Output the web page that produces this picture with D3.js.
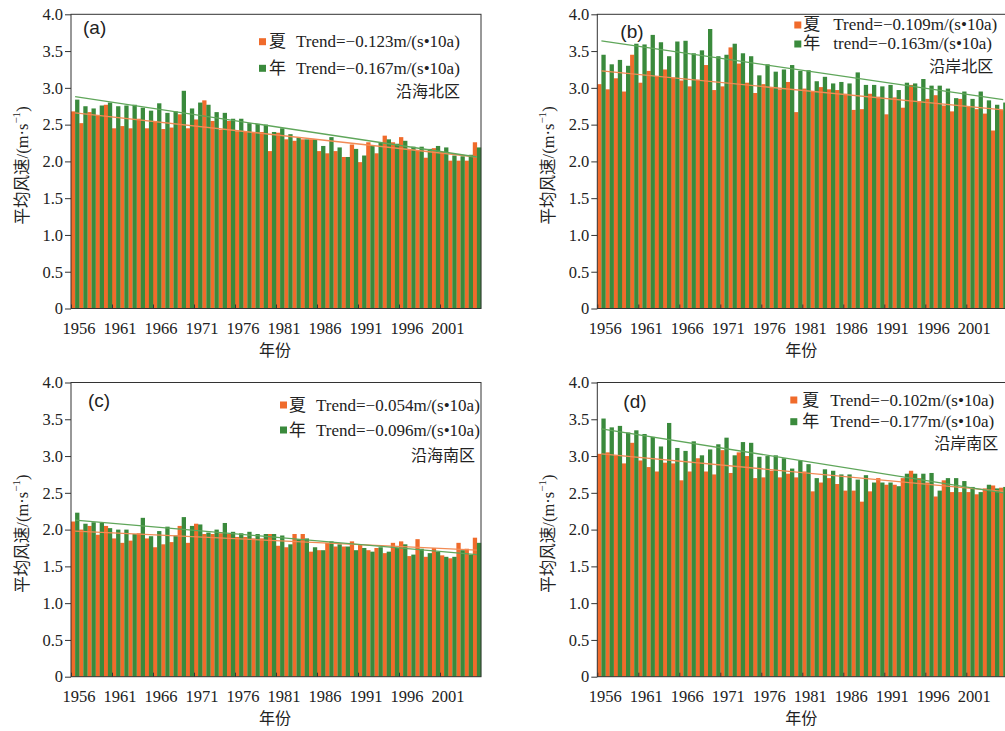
<!DOCTYPE html>
<html>
<head>
<meta charset="utf-8">
<script src="https://cdn.jsdelivr.net/npm/d3@7/dist/d3.min.js"></script>
<style>
body { margin: 0; background: #fff; }
</style>
</head>
<body>
<div id="plot"></div>
<script>
// data
const years = [1956,1957,1958,1959,1960,1961,1962,1963,1964,1965,
               1966,1967,1968,1969,1970,1971,1972,1973,1974,1975,
               1976,1977,1978,1979,1980,1981,1982,1983,1984,1985,
               1986,1987,1988,1989,1990,1991,1992,1993,1994,1995,
               1996,1997,1998,1999,2000,2001,2002,2003,2004,2005];
const tick_years = [1956, 1961, 1966, 1971, 1976, 1981, 1986, 1991, 1996, 2001];
const y_ticks = [0, 0.5, 1.0, 1.5, 2.0, 2.5, 3.0, 3.5, 4.0];

// (a) 沿海北区
const a_summer = [2.68,2.52,2.67,2.63,2.77,2.45,2.48,2.45,2.58,2.45, 2.55,2.44,2.46,2.64,2.45,2.57,2.83,2.55,2.43,2.55,
                  2.41,2.41,2.40,2.40,2.14,2.39,2.30,2.28,2.30,2.30, 2.14,2.11,2.14,2.06,2.23,1.99,2.26,2.11,2.35,2.26,
                  2.33,2.17,2.15,2.05,2.18,2.13,2.01,2.01,2.01,2.26];
const a_annual = [2.84,2.75,2.72,2.76,2.80,2.75,2.76,2.77,2.73,2.69, 2.79,2.66,2.68,2.96,2.72,2.80,2.77,2.67,2.66,2.58,
                  2.58,2.52,2.51,2.50,2.40,2.45,2.37,2.32,2.30,2.30, 2.21,2.33,2.19,2.06,2.17,2.08,2.21,2.25,2.30,2.24,
                  2.28,2.20,2.20,2.17,2.21,2.19,2.08,2.07,2.09,2.19];
// (b) 沿岸北区
const b_summer = [3.05,2.98,3.13,2.95,3.45,3.07,3.23,3.16,3.25,3.14, 3.10,3.02,3.11,3.31,2.97,3.02,3.55,3.33,3.07,2.93,
                  3.05,3.01,2.98,3.08,2.67,2.99,2.95,3.01,2.98,2.97, 2.92,2.70,2.71,2.92,2.88,2.64,2.87,2.73,3.04,2.82,
                  2.85,2.90,2.76,2.68,2.85,2.74,2.71,2.65,2.42,2.70];
const b_annual = [3.45,3.32,3.38,3.30,3.60,3.59,3.72,3.62,3.43,3.63, 3.64,3.47,3.51,3.80,3.43,3.45,3.60,3.47,3.43,3.17,
                  3.32,3.22,3.25,3.31,3.23,3.24,3.09,3.15,3.06,3.08, 3.06,3.21,3.04,3.04,3.02,3.04,2.97,3.07,3.06,3.12,
                  3.03,3.03,2.99,2.86,2.95,2.85,2.95,2.83,2.77,2.80];
// (c) 沿海南区
const c_summer = [2.11,2.00,2.05,1.93,2.05,1.88,1.82,1.85,1.95,1.88, 1.76,1.80,1.83,2.05,1.82,2.08,1.94,1.94,1.95,1.94,
                  1.90,1.90,1.88,1.88,1.94,1.78,1.76,1.94,1.94,1.70, 1.72,1.82,1.77,1.77,1.84,1.79,1.72,1.75,1.68,1.82,
                  1.84,1.64,1.87,1.63,1.75,1.65,1.61,1.82,1.74,1.89];
const c_annual = [2.23,2.08,2.10,2.09,2.02,2.00,2.00,1.94,2.16,1.91, 1.98,2.04,1.92,2.17,2.05,2.07,1.96,2.00,2.09,1.97,
                  1.95,1.97,1.94,1.94,1.94,1.92,1.80,1.87,1.88,1.76, 1.72,1.84,1.80,1.77,1.72,1.75,1.70,1.76,1.70,1.75,
                  1.80,1.66,1.74,1.68,1.70,1.63,1.63,1.72,1.66,1.82];
// (d) 沿岸南区
const d_summer = [3.03,3.05,3.01,2.90,3.18,2.94,2.85,2.79,2.91,2.90, 2.67,2.79,2.97,2.79,2.75,3.08,2.77,3.05,3.00,2.70,
                  2.71,2.80,2.71,2.76,2.71,2.79,2.52,2.64,2.70,2.62, 2.53,2.53,2.38,2.52,2.70,2.61,2.61,2.70,2.80,2.70,
                  2.64,2.45,2.67,2.51,2.51,2.51,2.48,2.56,2.60,2.57];
const d_annual = [3.51,3.39,3.41,3.32,3.35,3.30,3.26,3.13,3.45,3.11, 3.07,3.20,3.01,3.09,3.16,3.25,3.01,3.19,3.18,2.99,
                  3.00,3.01,2.97,2.83,2.94,2.89,2.70,2.82,2.80,2.75, 2.75,2.68,2.74,2.64,2.64,2.64,2.59,2.76,2.76,2.76,
                  2.77,2.53,2.70,2.70,2.66,2.58,2.51,2.61,2.56,2.58];

// trend lines: [value at 1956, value at 2005]
const a_trend = {summer: [2.66, 2.06], annual: [2.88, 2.06]};
const b_trend = {summer: [3.23, 2.70], annual: [3.64, 2.84]};
const c_trend = {summer: [1.98, 1.72], annual: [2.13, 1.66]};
const d_trend = {summer: [3.03, 2.52], annual: [3.37, 2.50]};

const panel_labels = ["(a)", "(b)", "(c)", "(d)"];
const region_names = ["沿海北区", "沿岸北区", "沿海南区", "沿岸南区"];
const summer_texts = ["Trend=\u22120.123m/(s\u202210a)", "Trend=\u22120.109m/(s\u202210a)",
                      "Trend=\u22120.054m/(s\u202210a)", "Trend=\u22120.102m/(s\u202210a)"];
const annual_texts = ["Trend=\u22120.167m/(s\u202210a)", "trend=\u22120.163m/(s\u202210a)",
                      "Trend=\u22120.096m/(s\u202210a)", "Trend=\u22120.177m/(s\u202210a)"];

const colors = {summer: "#f06b2b", annual: "#3a8a3c"};
const line_colors = {summer: "#f28b55", annual: "#5fa65a"};
const serif = "'Liberation Serif', 'Noto Sans CJK SC', serif";

// layout (pixel positions, relative to each plot box)
const panel_w = 410, panel_h = 294.2;
const layouts = [
    {left: 71,    top: 14.3,  sq: 188, han: 198, txt: 225, r1: 27.4, r2: 54,   rx: 389, ry: 77.4, lx: 12, ly: 13.7},
    {left: 597.3, top: 14.3,  sq: 197, han: 206, txt: 236, r1: 10.7, r2: 29.7, rx: 396, ry: 52.4, lx: 23, ly: 17.4},
    {left: 71,    top: 382.5, sq: 209, han: 218, txt: 245, r1: 22.5, r2: 47.5, rx: 404, ry: 72.5, lx: 17, ly: 17.5},
    {left: 597.3, top: 382.5, sq: 193, han: 205, txt: 233, r1: 17.5, r2: 39.2, rx: 401, ry: 60.8, lx: 26, ly: 19.2}
];

var svg = d3.select("#plot")
    .append("svg")
    .attr("width", 1005)
    .attr("height", 731);

function draw_panel(i, summer, annual, trend) {
    const lay = layouts[i];
    const g = svg.append("g").attr("transform", "translate(" + lay.left + "," + lay.top + ")");

    const x = d3.scaleBand().domain(years).range([0, panel_w]);
    const xs = d3.scaleBand().domain(["summer", "annual"]).range([0, x.bandwidth()]);
    const xl = d3.scaleLinear().domain([1956, 2006]).range([0, panel_w]);
    const y = d3.scaleLinear().domain([0, 4]).range([panel_h, 0]);

    const rows = years.map(function(yr, k) { return {year: yr, summer: summer[k], annual: annual[k]}; });

    ["summer", "annual"].forEach(function(key) {
        g.append("g").attr("fill", colors[key])
        .selectAll("rect").data(rows).enter().append("rect")
        .attr("x", function(d) { return x(d.year) + xs(key); })
        .attr("y", function(d) { return y(d[key]); })
        .attr("width", xs.bandwidth() + 0.2)
        .attr("height", function(d) { return y(0) - y(d[key]); });
    });

    // trend lines
    const line = d3.line()
        .x(function(d) { return x(d[0]) + x.bandwidth() / 2; })
        .y(function(d) { return y(d[1]); });
    ["summer", "annual"].forEach(function(key) {
        g.append("path")
        .datum([[years[0], trend[key][0]], [years[years.length - 1], trend[key][1]]])
        .attr("fill", "none").attr("stroke", line_colors[key]).attr("stroke-width", 1.3)
        .attr("d", line);
    });

    // frame
    g.append("rect").attr("x", 0).attr("y", 0).attr("width", panel_w).attr("height", panel_h)
    .attr("fill", "none").attr("stroke", "#333").attr("stroke-width", 1);

    // axes
    var yAxis = d3.axisLeft(y).tickValues(y_ticks).tickSizeInner(6).tickSizeOuter(0).tickPadding(2)
        .tickFormat(function(d) { return d === 0 ? "0" : d3.format(".1f")(d); });
    var ya = g.append("g").call(yAxis);
    ya.select(".domain").remove();
    ya.selectAll("line").attr("stroke", "#333");
    ya.selectAll("text").style("font-family", serif).style("font-size", "16.5px").attr("fill", "#222");

    var xAxis = d3.axisBottom(xl).tickValues(tick_years).tickSizeInner(-4).tickSizeOuter(0)
        .tickFormat(d3.format("d"));
    var xa = g.append("g").attr("transform", "translate(0," + panel_h + ")").call(xAxis);
    xa.select(".domain").remove();
    xa.selectAll("line").attr("stroke", "#333");
    xa.selectAll("text").style("font-family", serif).style("font-size", "16.5px").attr("fill", "#222")
    .attr("x", 7.5).attr("y", 20).attr("dy", "0.35em");

    // axis titles
    g.append("text").attr("x", panel_w / 2 - 1).attr("y", panel_h + 42)
    .attr("text-anchor", "middle").attr("dominant-baseline", "central")
    .style("font-family", serif).style("font-size", "16px").attr("fill", "#222")
    .text("年份");

    var yt = g.append("text").attr("transform", "translate(-49," + (panel_h / 2 + 4) + ") rotate(-90)")
    .attr("text-anchor", "middle").attr("dominant-baseline", "central")
    .style("font-family", serif).style("font-size", "16.5px").attr("fill", "#222");
    yt.append("tspan").text("平均风速/(m·s");
    yt.append("tspan").attr("dy", -6).style("font-size", "11px").text("\u22121");
    yt.append("tspan").attr("dy", 6).text(")");

    // panel label
    g.append("text").attr("x", lay.lx).attr("y", lay.ly).attr("dominant-baseline", "central")
    .style("font-family", "'Liberation Sans', Arial, sans-serif").style("font-size", "19px").attr("fill", "#222")
    .text(panel_labels[i]);

    // legend
    const legend = [["summer", "夏", summer_texts[i], lay.r1], ["annual", "年", annual_texts[i], lay.r2]];
    legend.forEach(function(l) {
        g.append("rect").attr("x", lay.sq).attr("y", l[3] - 3.5).attr("width", 7).attr("height", 7)
        .attr("fill", colors[l[0]]);
        g.append("text").attr("x", lay.han).attr("y", l[3]).attr("dominant-baseline", "central")
        .style("font-family", serif).style("font-size", "17px").attr("fill", "#222").text(l[1]);
        g.append("text").attr("x", lay.txt).attr("y", l[3]).attr("dominant-baseline", "central")
        .style("font-family", serif).style("font-size", "17px").attr("fill", "#222").text(l[2]);
    });

    g.append("text").attr("x", lay.rx).attr("y", lay.ry).attr("text-anchor", "end").attr("dominant-baseline", "central")
    .style("font-family", serif).style("font-size", "16px").attr("fill", "#222")
    .text(region_names[i]);
}

draw_panel(0, a_summer, a_annual, a_trend);
draw_panel(1, b_summer, b_annual, b_trend);
draw_panel(2, c_summer, c_annual, c_trend);
draw_panel(3, d_summer, d_annual, d_trend);
</script>
</body>
</html>
